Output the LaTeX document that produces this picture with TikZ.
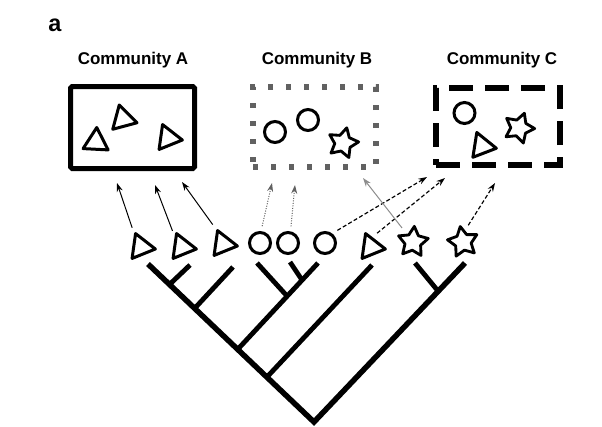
\documentclass[tikz,border=0pt]{standalone}
\usepackage{fontspec}
\setmainfont{Liberation Sans}
\usetikzlibrary{shapes.geometric,arrows.meta}

\definecolor{dotgray}{gray}{0.38}
\definecolor{thingray}{gray}{0.55}

\begin{document}
\begin{tikzpicture}
	[
	x=0.3mm, y=-0.3mm,
	title/.style={font=\fontsize{14.5}{17}\selectfont\bfseries},
	tri/.style={draw, regular polygon, regular polygon sides=3, minimum size=8.7mm, inner sep=0pt, line width=0.9mm, line join=round},
	ring/.style={draw, circle, minimum size=6.3mm, inner sep=0pt, line width=0.9mm},
	starry/.style={draw, star, star points=5, star point ratio=1.9, minimum size=9.4mm, inner sep=0pt, line width=0.85mm, line join=round},
	boxa/.style={draw, rectangle, rounded corners=0.5mm, line width=1.5mm, minimum width=37.2mm, minimum height=24.6mm, inner sep=0pt},
	boxb/.style={draw=dotgray, rectangle, line width=1.6mm, dash pattern=on 1.6mm off 3.8mm, minimum width=36.9mm, minimum height=24mm, inner sep=0pt},
	boxc/.style={draw, rectangle, line width=1.8mm, dash pattern=on 7.2mm off 3.6mm, minimum width=37.2mm, minimum height=23.1mm, inner sep=0pt},
	arm/.style={line width=1.65mm, line join=miter},
	branch/.style={line width=1.45mm},
	solidarr/.style={line width=0.3mm, -{Stealth[length=2.6mm,width=1.8mm]}, shorten <=1.8mm},
	dotarr/.style={dotgray, line width=0.3mm, dash pattern=on 0.3mm off 0.45mm, -{Stealth[length=2.6mm,width=1.8mm]}, shorten <=1.5mm},
	dasharr/.style={line width=0.35mm, dash pattern=on 1.2mm off 0.7mm, -{Stealth[length=2.6mm,width=1.8mm]}, shorten <=1.8mm},
	grayarr/.style={thingray, line width=0.3mm, -{Stealth[length=2.6mm,width=1.8mm]}, shorten <=2.2mm},
	]
		\useasboundingbox (0,0) rectangle (602,426);
		
		% panel letter
		\node[font=\fontsize{20}{24}\selectfont\bfseries] (panel) at ( 55, 25 ) {a};
		
		% community A
		\node[title] (ta) at 		( 133, 60.5 ) {Community A};
		\node[boxa] (boxA) at 		( 132.5, 127.5 ) {};
		\node[tri, shape border rotate=-3] (ta1) at 	( 96, 142 ) {};
		\node[tri, shape border rotate=15] (ta2) at 	( 123, 119 ) {};
		\node[tri, shape border rotate=22] (ta3) at 	( 168, 138 ) {};
		
		% community B
		\node[title] (tb) at 		( 317, 60.5 ) {Community B};
		\node[boxb] (boxB) at 		( 314.5, 127 ) {};
		\node[ring] (cb1) at 		( 275, 132 ) {};
		\node[ring] (cb2) at 		( 308, 120 ) {};
		\node[starry, shape border rotate=-14] (sb1) at 	( 343, 143 ) {};
		
		% community C
		\node[title] (tc) at 		( 502, 60.5 ) {Community C};
		\node[boxc] (boxC) at 		( 498, 126.5 ) {};
		\node[ring] (cc1) at 		( 464.5, 113 ) {};
		\node[tri, shape border rotate=21] (tc1) at 	( 482, 146 ) {};
		\node[starry, shape border rotate=-20] (sc1) at 	( 519, 128 ) {};
		
		% leaves
		\node[tri, shape border rotate=22] (t1) at 	( 141, 247 ) {};
		\node[tri, shape border rotate=22] (t2) at 	( 182, 247 ) {};
		\node[tri, shape border rotate=22] (t3) at 	( 223, 244 ) {};
		\node[ring] (c1) at 		( 260, 243 ) {};
		\node[ring] (c2) at 		( 288, 243 ) {};
		\node[ring] (c3) at 		( 325, 243 ) {};
		\node[tri, shape border rotate=22] (t4) at 	( 371, 247 ) {};
		\node[starry, shape border rotate=-5] (s1) at 	( 413, 242 ) {};
		\node[starry, shape border rotate=10] (s2) at 	( 463, 242 ) {};
		
		% tree
		\coordinate (root) at 	( 314, 422 );
		\coordinate (lt) at 		( 148, 264 );
		\coordinate (rt) at 		( 465, 263 );
		\coordinate (j1) at 		( 170, 284 );
		\coordinate (k1) at 		( 190, 265 );
		\coordinate (j2) at 		( 195, 308 );
		\coordinate (k2) at 		( 233, 267 );
		\coordinate (j3) at 		( 238, 349 );
		\coordinate (k3) at 		( 318, 263 );
		\coordinate (j4) at 		( 287, 296 );
		\coordinate (k4) at 		( 257, 263 );
		\coordinate (j5) at 		( 302, 280 );
		\coordinate (k5) at 		( 290, 262 );
		\coordinate (j6) at 		( 267, 377 );
		\coordinate (k6) at 		( 372, 265 );
		\coordinate (j7) at 		( 438, 291 );
		\coordinate (k7) at 		( 415, 263 );
		
		\draw[arm] (lt) -- (root) -- (rt);
		\foreach \from/\to in {j1/k1,j2/k2,j3/k3,j4/k4,j5/k5,j6/k6,j7/k7} \draw[branch] (\from) -- (\to);
		
		% arrow heads
		\coordinate (toa1) at 	( 117, 183 );
		\coordinate (toa2) at 	( 155, 185 );
		\coordinate (toa3) at 	( 182, 182 );
		\coordinate (tob1) at 	( 272, 183 );
		\coordinate (tob2) at 	( 295, 185 );
		\coordinate (tob3) at 	( 363, 178 );
		\coordinate (toc1) at 	( 427, 177 );
		\coordinate (toc2) at 	( 445, 178 );
		\coordinate (toc3) at 	( 495, 183 );
		
		\foreach \from/\to in {t1.117/toa1,t2.125/toa2,t3.115/toa3} \draw[solidarr] (\from) -- (\to);
		\foreach \from/\to in {c1.85/tob1,c2.78/tob2} \draw[dotarr] (\from) -- (\to);
		\foreach \from/\to in {c3.53/toc1,t4.82/toc2,s2.80/toc3} \draw[dasharr] (\from) -- (\to);
		\draw[grayarr] (s1.128) -- (tob3);
		
	\end{tikzpicture}
\end{document}
